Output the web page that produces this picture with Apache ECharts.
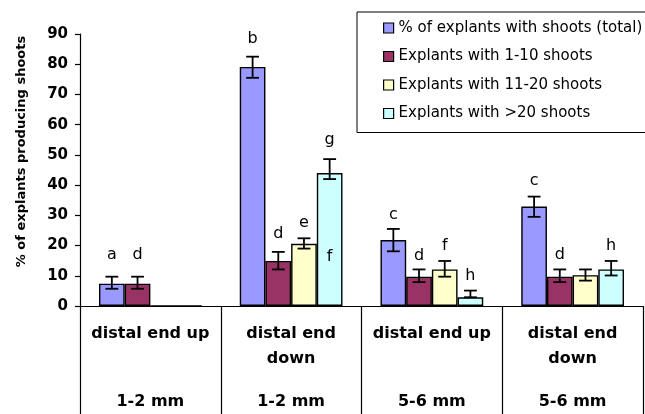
<!DOCTYPE html>
<html><head><meta charset="utf-8">
<script src="https://cdn.jsdelivr.net/npm/echarts@6/dist/echarts.min.js"></script>
<style>html,body{margin:0;padding:0;background:#fff}#c{width:645px;height:414px}</style>
</head><body><div id="c"></div>
<script>
// ---- data ----
const orientations = ['distal end up', 'distal end\ndown', 'distal end up', 'distal end\ndown'];
const sizes = ['1-2 mm', '1-2 mm', '5-6 mm', '5-6 mm'];
const seriesNames = ['% of explants with shoots (total)', 'Explants with 1-10 shoots', 'Explants with 11-20 shoots', 'Explants with >20 shoots'];

const totalVals = [7.4, 79.1, 21.8, 32.9];
const totalErrHigh = [2.3, 3.4, 3.7, 3.3];
const totalErrLow = [1.7, 3.6, 3.7, 3.4];

const s1to10Vals = [7.4, 14.9, 9.7, 9.7];
const s1to10ErrHigh = [2.3, 3.0, 2.4, 2.4];
const s1to10ErrLow = [1.7, 2.8, 1.8, 1.8];

const s11to20Vals = [0, 20.6, 12.1, 10.2];
const s11to20ErrHigh = [null, 1.8, 2.8, 1.9];
const s11to20ErrLow = [null, 1.6, 2.4, 1.8];

const sOver20Vals = [0, 44.0, 2.9, 12.1];
const sOver20ErrHigh = [null, 4.6, 2.2, 2.8];
const sOver20ErrLow = [null, 2.0, 0, 2.0];

// significance letters: [category index, series index, y value, letter]
const letterMarks = [
  [0, 0, 16.9, 'a'], [0, 1, 16.9, 'd'],
  [1, 0, 88.4, 'b'], [1, 1, 23.8, 'd'], [1, 2, 27.5, 'e'], [1, 3, 54.9, 'g'], [1, 3, 16.2, 'f'],
  [2, 0, 30.1, 'c'], [2, 1, 16.5, 'd'], [2, 2, 19.9, 'f'], [2, 3, 9.9, 'h'],
  [3, 0, 41.4, 'c'], [3, 1, 16.9, 'd'], [3, 3, 19.9, 'h']
];

const yTicks = [0, 10, 20, 30, 40, 50, 60, 70, 80, 90];

// ---- build ----
const colors = ['#9999FF', '#993366', '#FFFFCC', '#CCFFFF'];
const vals = [totalVals, s1to10Vals, s11to20Vals, sOver20Vals];
const errHi = [totalErrHigh, s1to10ErrHigh, s11to20ErrHigh, sOver20ErrHigh];
const errLo = [totalErrLow, s1to10ErrLow, s11to20ErrLow, sOver20ErrLow];
const GAP = 0.27;
const NS = 4;
const FONT = '"DejaVu Sans", sans-serif';

const errData = [];
vals.forEach((arr, s) => arr.forEach((v, c) => {
  if (errHi[s][c] != null) errData.push([c, s, v, errLo[s][c], errHi[s][c]]);
}));

function barX(api, c, s) {
  const center = api.coord([c, 0])[0];
  const band = api.size([1, 0])[0];
  const w = band * (1 - GAP) / NS;
  return { x: center + (s - (NS - 1) / 2) * w, w: w };
}

const barSeries = vals.map((arr, s) => ({
  name: seriesNames[s],
  type: 'bar',
  data: arr,
  barGap: '0%',
  barCategoryGap: (GAP * 100) + '%',
  itemStyle: { color: colors[s], borderColor: '#000', borderWidth: 1.4 },
  emphasis: { disabled: true },
  animation: false
}));

const option = {
  animation: false,
  textStyle: { fontFamily: FONT },
  grid: { left: 80, right: 2, top: 34, bottom: 108, containLabel: false },
  legend: {
    orient: 'vertical',
    left: 357, top: 12,
    padding: [8, 30, 11, 26],
    itemGap: 12.5,
    itemWidth: 10, itemHeight: 10,
    itemStyle: { borderColor: '#000', borderWidth: 1.2 },
    backgroundColor: '#fff',
    borderColor: '#000', borderWidth: 1,
    textStyle: { fontFamily: FONT, fontSize: 15, color: '#000', lineHeight: 16 },
    data: seriesNames.map(n => ({ name: n, icon: 'rect' })),
    selectedMode: false
  },
  xAxis: [{
    type: 'category',
    data: orientations,
    axisLine: { lineStyle: { color: '#000', width: 1.2 } },
    axisTick: { show: true, length: 108, interval: 0, lineStyle: { color: '#000', width: 1.2 } },
    axisLabel: { interval: 0, margin: 15, fontFamily: FONT, fontWeight: 'bold', fontSize: 16, lineHeight: 25, color: '#000' },
    splitLine: { show: false }
  }, {
    type: 'category',
    data: sizes,
    position: 'bottom',
    offset: 83,
    axisLine: { show: false },
    axisTick: { show: false },
    axisLabel: { interval: 0, margin: 0, fontFamily: FONT, fontWeight: 'bold', fontSize: 16, lineHeight: 25, color: '#000' },
    splitLine: { show: false }
  }],
  yAxis: {
    type: 'value',
    min: yTicks[0], max: yTicks[yTicks.length - 1], interval: yTicks[1] - yTicks[0],
    name: '% of explants producing shoots',
    nameLocation: 'middle',
    nameGap: 52,
    nameTextStyle: { fontFamily: FONT, fontWeight: 'bold', fontSize: 13, color: '#000', padding: [0, 0, 0, 37] },
    axisLine: { show: true, lineStyle: { color: '#000', width: 1.2 } },
    axisTick: { show: true, length: 5, lineStyle: { color: '#000', width: 1.2 } },
    axisLabel: { margin: 12, fontFamily: FONT, fontWeight: 'bold', fontSize: 15, color: '#000' },
    splitLine: { show: false }
  },
  series: barSeries.concat([{
    type: 'custom',
    name: 'errorbars',
    xAxisIndex: 0,
    data: errData,
    z: 5,
    silent: true,
    renderItem: function (params, api) {
      const c = api.value(0), s = api.value(1), v = api.value(2), lo = api.value(3), hi = api.value(4);
      const b = barX(api, c, s);
      const yT = api.coord([c, v + hi])[1];
      const yB = api.coord([c, v - lo])[1];
      const cap = b.w / 4;
      const st = { stroke: '#000', lineWidth: 1.8 };
      return { type: 'group', children: [
        { type: 'line', shape: { x1: b.x, y1: yT, x2: b.x, y2: yB }, style: st },
        { type: 'line', shape: { x1: b.x - cap, y1: yT, x2: b.x + cap, y2: yT }, style: st },
        { type: 'line', shape: { x1: b.x - cap, y1: yB, x2: b.x + cap, y2: yB }, style: st }
      ] };
    }
  }, {
    type: 'custom',
    name: 'letters',
    xAxisIndex: 0,
    data: letterMarks,
    z: 6,
    silent: true,
    renderItem: function (params, api) {
      const c = api.value(0), s = api.value(1), y = api.value(2);
      const b = barX(api, c, s);
      const py = api.coord([c, y])[1];
      return { type: 'text', x: b.x, y: py, style: {
        text: letterMarks[params.dataIndex][3], fill: '#000',
        font: '16px ' + FONT, align: 'center', verticalAlign: 'middle'
      } };
    }
  }])
};

const chart = echarts.init(document.getElementById('c'), null, { renderer: 'canvas' });
chart.setOption(option);
</script>
</body></html>
